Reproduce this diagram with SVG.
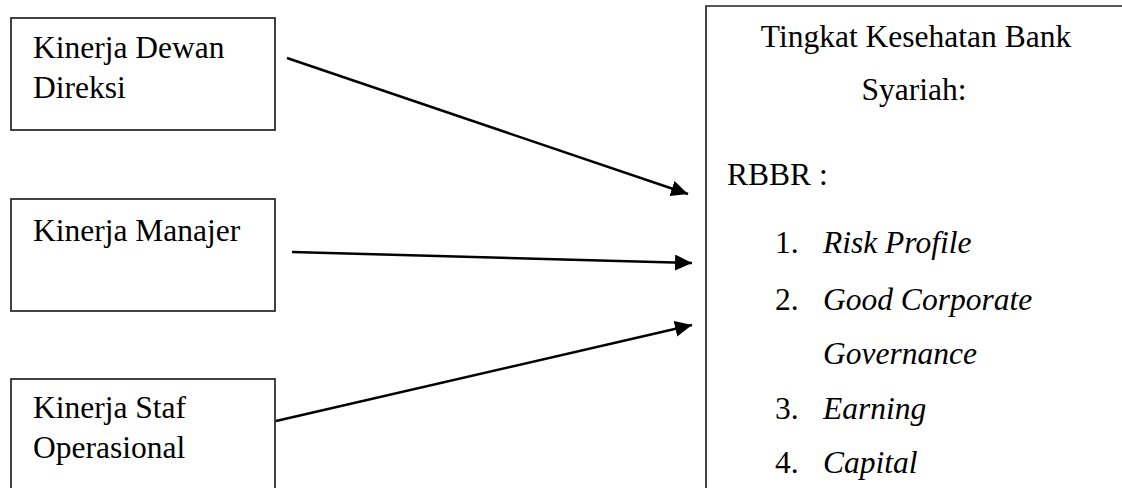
<svg xmlns="http://www.w3.org/2000/svg" width="1122" height="488" viewBox="0 0 1122 488">
  <style>
    .box { fill: #ffffff; stroke: #222222; stroke-width: 1.7; }
    .t { font-family: "Liberation Serif", "Times New Roman", serif; font-size: 31.5px; fill: #000000; }
    .i { font-style: italic; }
    .link { stroke: #000000; stroke-width: 2.5; fill: none; marker-end: url(#head); }
  </style>
  <defs>
    <marker id="head" viewBox="0 0 17 16" refX="17" refY="8" markerWidth="17" markerHeight="16" markerUnits="userSpaceOnUse" orient="auto">
      <path d="M0,0 L17,8 L0,16 Z" fill="#000000"/>
    </marker>
  </defs>
  <rect width="1122" height="488" fill="#ffffff"/>

  <g id="node-dewan-direksi">
    <rect class="box" x="11" y="18" width="264" height="112"/>
    <text class="t" x="33" y="58">Kinerja Dewan</text>
    <text class="t" x="33" y="98">Direksi</text>
  </g>

  <g id="node-manajer">
    <rect class="box" x="11" y="199" width="264" height="112"/>
    <text class="t" x="33" y="241">Kinerja Manajer</text>
  </g>

  <g id="node-staf">
    <rect class="box" x="11" y="379" width="264" height="120"/>
    <text class="t" x="33" y="418">Kinerja Staf</text>
    <text class="t" x="33" y="458">Operasional</text>
  </g>

  <g id="node-tingkat-kesehatan">
    <path class="box" d="M706,500 L706,6 L1130,6" fill="none"/>
    <text class="t" x="916" y="47" text-anchor="middle">Tingkat Kesehatan Bank</text>
    <text class="t" x="914" y="100" text-anchor="middle">Syariah:</text>
    <text class="t" x="727" y="185">RBBR :</text>
    <text class="t" x="775" y="253">1.</text>
    <text class="t i" x="823" y="253">Risk Profile</text>
    <text class="t" x="775" y="310">2.</text>
    <text class="t i" x="823" y="310">Good Corporate</text>
    <text class="t i" x="823" y="364">Governance</text>
    <text class="t" x="775" y="419">3.</text>
    <text class="t i" x="823" y="419">Earning</text>
    <text class="t" x="775" y="473">4.</text>
    <text class="t i" x="823" y="473">Capital</text>
  </g>

  <g id="connectors">
    <line class="link" x1="287" y1="58" x2="688" y2="194"/>
    <line class="link" x1="292" y1="252" x2="692" y2="263"/>
    <line class="link" x1="276" y1="421" x2="692" y2="325"/>
  </g>
</svg>
